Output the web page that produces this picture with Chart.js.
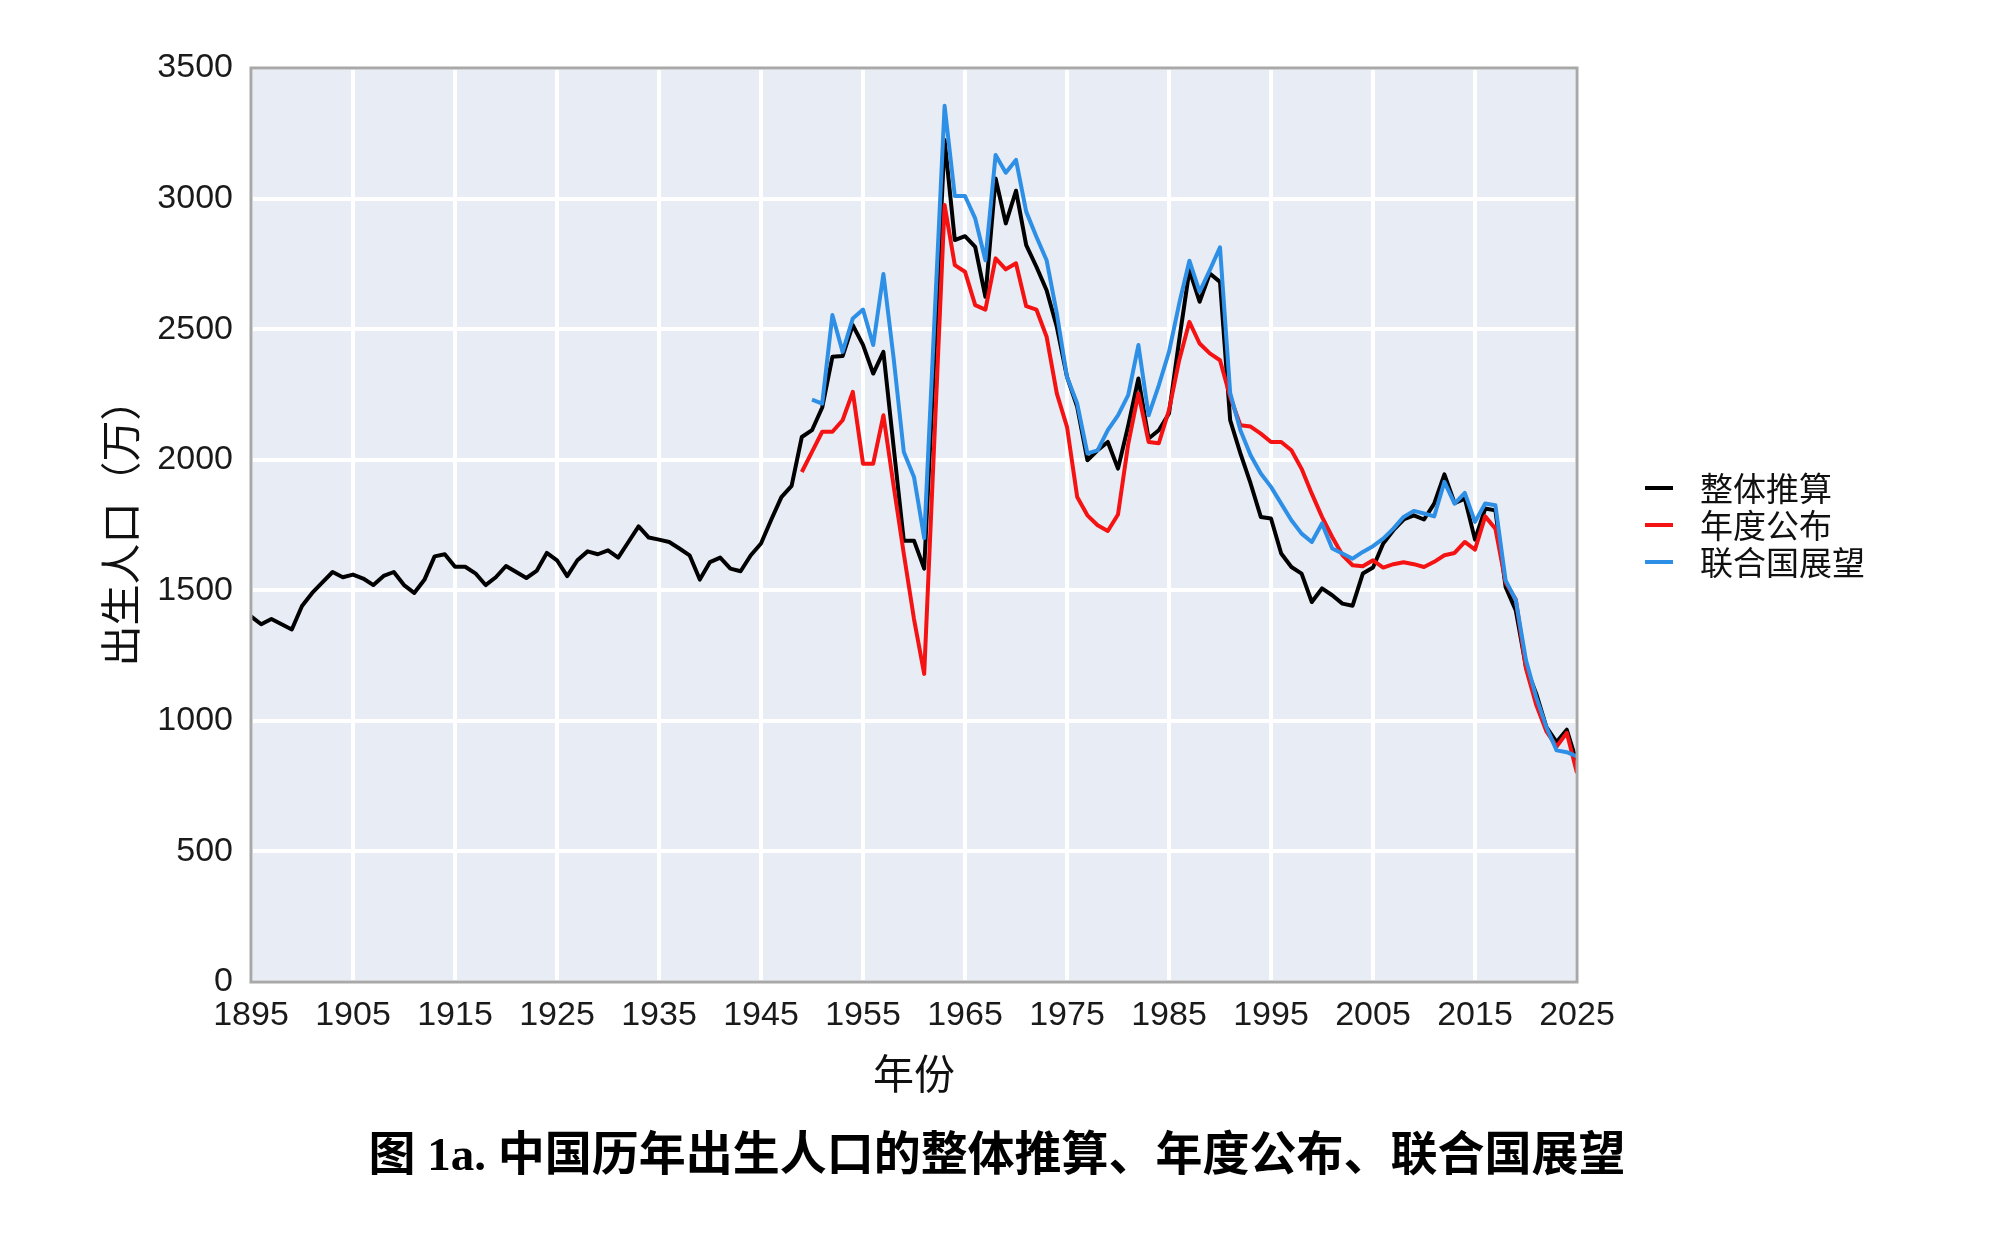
<!DOCTYPE html>
<html lang="zh">
<head>
    <meta charset="UTF-8">
    <title>中国历年出生人口</title>
    <script src="https://cdn.jsdelivr.net/npm/chart.js"></script>
    <style>
        html, body { margin: 0; padding: 0; background: #fff; }
        canvas { display: block; }
    </style>
</head>
<body>
    <canvas id="births" width="2000" height="1235"></canvas>

    <script>
        // 出生人口（万），按年份排列
        const estimateStart = 1895;   // 整体推算
        const estimateValues = [
            1400, 1370, 1390, 1370, 1350, 1440, 1490, 1530, 1570, 1550,   // 1895-1904
            1560, 1545, 1520, 1555, 1570, 1520, 1490, 1540, 1630, 1638,   // 1905-1914
            1590, 1590, 1565, 1520, 1550, 1593, 1570, 1547, 1574, 1643,   // 1915-1924
            1615, 1554, 1615, 1649, 1638, 1653, 1625, 1685, 1745, 1702,   // 1925-1934
            1694, 1685, 1660, 1634, 1541, 1608, 1625, 1583, 1573, 1634,   // 1935-1944
            1679, 1770, 1857, 1900, 2087, 2113, 2200, 2394, 2397, 2515,   // 1945-1954
            2440, 2330, 2413, 2050, 1690, 1690, 1583, 2393, 3224, 2841,   // 1955-1964
            2856, 2815, 2624, 3077, 2905, 3030, 2822, 2739, 2649, 2509,   // 1965-1974
            2317, 2202, 1998, 2036, 2068, 1966, 2130, 2311, 2081, 2113,   // 1975-1984
            2177, 2458, 2726, 2605, 2713, 2681, 2151, 2024, 1909, 1781,   // 1985-1994
            1775, 1641, 1589, 1564, 1455, 1507, 1481, 1449, 1441, 1564,   // 1995-2004
            1587, 1679, 1730, 1771, 1787, 1771, 1832, 1944, 1834, 1851,   // 2005-2014
            1694, 1813, 1806, 1513, 1423, 1206, 1104, 976, 919, 966,      // 2015-2024
            840                                                           // 2025
        ];

        const officialStart = 1949;   // 年度公布
        const officialValues = [
            1953, 2030, 2107, 2107, 2151, 2260, 1985, 1985, 2170, 1900,   // 1949-1958
            1640, 1390, 1180, 2080, 2975, 2745, 2720, 2592, 2575, 2771,   // 1959-1968
            2729, 2752, 2588, 2575, 2471, 2254, 2126, 1857, 1787, 1749,   // 1969-1978
            1727, 1790, 2060, 2254, 2068, 2063, 2190, 2381, 2528, 2445,   // 1979-1988
            2407, 2381, 2240, 2132, 2127, 2100, 2068, 2068, 2036, 1965,   // 1989-1998
            1870, 1781, 1704, 1635, 1596, 1592, 1615, 1587, 1600, 1607,   // 1999-2008
            1600, 1589, 1609, 1634, 1643, 1685, 1656, 1783, 1736, 1530,   // 2009-2018
            1465, 1200, 1062, 960, 902, 954, 800                          // 2019-2025
        ];

        const unStart = 1950;         // 联合国展望
        const unValues = [
            2230, 2215, 2554, 2413, 2541, 2575, 2439, 2711, 2390, 2030,   // 1950-1959
            1934, 1700, 2530, 3355, 3010, 3010, 2924, 2764, 3167, 3099,   // 1960-1969
            3148, 2950, 2854, 2764, 2560, 2317, 2215, 2024, 2036, 2113,   // 1970-1979
            2170, 2247, 2439, 2170, 2285, 2413, 2598, 2762, 2643, 2726,   // 1980-1989
            2813, 2255, 2113, 2017, 1947, 1896, 1832, 1768, 1717, 1685,   // 1990-1999
            1756, 1660, 1641, 1621, 1647, 1669, 1698, 1736, 1781, 1804,   // 2000-2009
            1794, 1783, 1915, 1832, 1873, 1762, 1832, 1826, 1538, 1462,   // 2010-2019
            1232, 1091, 976, 887, 880, 864                                // 2020-2025
        ];

        const seriesNames = ['整体推算', '年度公布', '联合国展望'];
        const seriesColors = ['#000000', '#f51212', '#2e8fe6'];

        const xTicks = [1895, 1905, 1915, 1925, 1935, 1945, 1955, 1965, 1975, 1985, 1995, 2005, 2015, 2025];
        const yTicks = [0, 500, 1000, 1500, 2000, 2500, 3000, 3500];

        const chartTitle = '图 1a. 中国历年出生人口的整体推算、年度公布、联合国展望';
        const xTitle = '年份';
        const yTitle = '出生人口（万）';

        function toPoints(start, values) {
            return values.map((v, i) => ({ x: start + i, y: v }));
        }

        // background, frame, axis titles, legend and caption
        const decorations = {
            id: 'decorations',
            beforeDraw(chart) {
                const { ctx, chartArea: a } = chart;
                ctx.save();
                ctx.fillStyle = '#ffffff';
                ctx.fillRect(0, 0, chart.width, chart.height);
                ctx.fillStyle = '#e8ecf5';
                ctx.fillRect(a.left, a.top, a.right - a.left, a.bottom - a.top);
                ctx.restore();
            },
            afterDraw(chart) {
                const { ctx, chartArea: a } = chart;
                ctx.save();
                ctx.strokeStyle = '#a8a8a8';
                ctx.lineWidth = 3;
                ctx.strokeRect(a.left, a.top, a.right - a.left, a.bottom - a.top);

                ctx.fillStyle = '#111';
                ctx.textAlign = 'center';
                ctx.textBaseline = 'middle';
                ctx.font = "41px 'Noto Sans CJK SC', sans-serif";
                ctx.fillText(xTitle, 914, 1073);

                ctx.save();
                ctx.translate(120, (a.top + a.bottom) / 2 - 2);
                ctx.rotate(-Math.PI / 2);
                ctx.fillText(yTitle, 0, 0);
                ctx.restore();

                ctx.font = "bold 47px 'Liberation Serif', 'Noto Sans CJK SC', serif";
                ctx.fillStyle = '#000';
                ctx.fillText(chartTitle, 997, 1158);

                // legend
                ctx.font = "33px 'Noto Sans CJK SC', sans-serif";
                ctx.textAlign = 'left';
                seriesNames.forEach((name, i) => {
                    const y = 488 + i * 37;
                    ctx.strokeStyle = seriesColors[i];
                    ctx.lineWidth = 4;
                    ctx.beginPath();
                    ctx.moveTo(1645, y);
                    ctx.lineTo(1673, y);
                    ctx.stroke();
                    ctx.fillStyle = '#111';
                    ctx.fillText(name, 1700, y);
                });
                ctx.restore();
            }
        };

        const tickFont = { family: "'Liberation Sans', Arial, sans-serif", size: 34 };

        new Chart(document.getElementById('births'), {
            type: 'line',
            data: {
                datasets: [
                    { label: seriesNames[0], data: toPoints(estimateStart, estimateValues), borderColor: seriesColors[0], order: 2 },
                    { label: seriesNames[1], data: toPoints(officialStart, officialValues), borderColor: seriesColors[1], order: 1 },
                    { label: seriesNames[2], data: toPoints(unStart, unValues), borderColor: seriesColors[2], order: 0 }
                ]
            },
            options: {
                responsive: false,
                animation: false,
                devicePixelRatio: 1,
                layout: { padding: { top: 68, right: 423, bottom: 193, left: 0 } },
                elements: {
                    line: { borderWidth: 4, tension: 0, borderJoinStyle: 'round', fill: false },
                    point: { radius: 0 }
                },
                plugins: {
                    legend: { display: false },
                    tooltip: { enabled: false }
                },
                scales: {
                    x: {
                        type: 'linear',
                        min: 1895,
                        max: 2025,
                        afterBuildTicks: s => { s.ticks = xTicks.map(v => ({ value: v })); },
                        afterFit: s => { s.height = 60; },
                        ticks: {
                            font: tickFont, color: '#1a1a1a', padding: 13,
                            autoSkip: false, maxRotation: 0,
                            callback: v => String(v)
                        },
                        grid: { color: '#ffffff', lineWidth: 4, drawTicks: false },
                        border: { display: false }
                    },
                    y: {
                        min: 0,
                        max: 3500,
                        afterBuildTicks: s => { s.ticks = yTicks.map(v => ({ value: v })); },
                        afterFit: s => { s.width = 251; },
                        ticks: {
                            font: tickFont, color: '#1a1a1a', padding: 18,
                            callback: v => String(v)
                        },
                        grid: { color: '#ffffff', lineWidth: 4, drawTicks: false },
                        border: { display: false }
                    }
                }
            },
            plugins: [decorations]
        });
    </script>
</body>
</html>
